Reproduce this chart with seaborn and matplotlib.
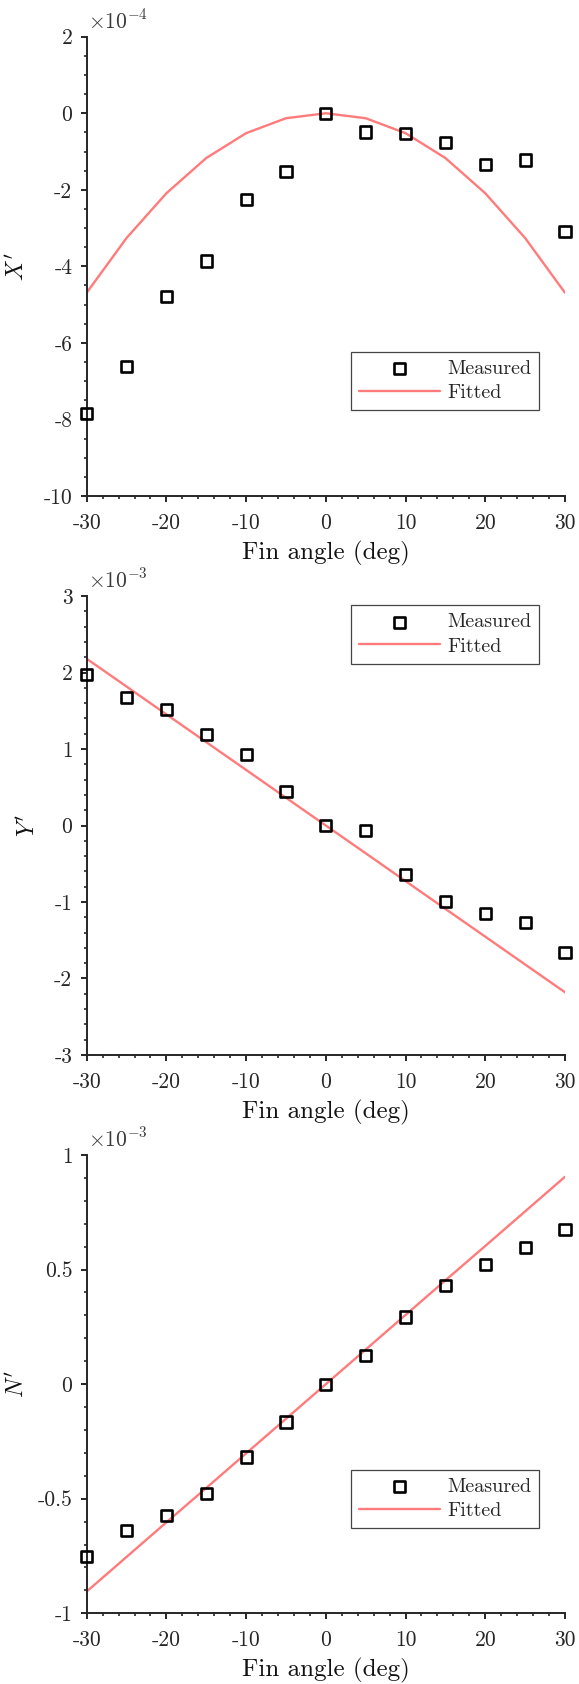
import matplotlib
matplotlib.use("Agg")
import matplotlib.pyplot as plt
from matplotlib.ticker import MultipleLocator, FuncFormatter
import seaborn as sns

# Fin deflection angles (deg)
fin_angle = [-30, -25, -20, -15, -10, -5, 0, 5, 10, 15, 20, 25, 30]

# Surge force coefficient X' (x 1e-4)
x_measured = [-7.85, -6.61, -4.78, -3.86, -2.26, -1.53, 0.0, -0.49, -0.54, -0.77, -1.33, -1.22, -3.10]
x_fitted = [-4.69, -3.26, -2.09, -1.17, -0.52, -0.13, 0.0, -0.13, -0.52, -1.17, -2.09, -3.26, -4.69]

# Sway force coefficient Y' (x 1e-3)
y_measured = [1.98, 1.67, 1.52, 1.19, 0.93, 0.44, 0.0, -0.07, -0.64, -0.99, -1.15, -1.27, -1.66]
y_fitted = [2.18, 1.817, 1.453, 1.09, 0.727, 0.363, 0.0, -0.363, -0.727, -1.09, -1.453, -1.817, -2.18]

# Yaw moment coefficient N' (x 1e-3)
n_measured = [-0.753, -0.639, -0.572, -0.476, -0.318, -0.165, 0.0, 0.126, 0.293, 0.432, 0.522, 0.596, 0.675]
n_fitted = [-0.905, -0.754, -0.603, -0.453, -0.302, -0.151, 0.0, 0.151, 0.302, 0.453, 0.603, 0.754, 0.905]

INK = "#262626"
FIT_COLOR = "#ff7b7b"

sns.set_style("ticks")
plt.rcParams.update({
    "font.family": ["cmr10", "DejaVu Serif"],
    "mathtext.fontset": "cm",
    "axes.unicode_minus": False,
    "axes.linewidth": 1.4,
    "axes.edgecolor": INK,
    "axes.labelcolor": "#111111",
    "xtick.color": INK,
    "ytick.color": INK,
    "xtick.labelcolor": INK,
    "ytick.labelcolor": INK,
    "xtick.direction": "out",
    "ytick.direction": "out",
    "xtick.major.size": 4.3,
    "ytick.major.size": 4.3,
    "xtick.minor.size": 2.5,
    "ytick.minor.size": 2.5,
    "xtick.major.width": 1.4,
    "ytick.major.width": 1.4,
    "xtick.minor.width": 1.2,
    "ytick.minor.width": 1.2,
    "xtick.major.pad": 8,
    "ytick.major.pad": 6,
    "xtick.labelsize": 15.5,
    "ytick.labelsize": 15.5,
})


def tick_text(v, _pos):
    if abs(v) < 1e-9:
        return "0"
    return f"{v:g}"


def draw_panel(ax, measured, fitted, ylabel, label_x, exponent, ylim, major, minor, legend_top):
    sns.lineplot(x=fin_angle, y=fitted, ax=ax, color=FIT_COLOR, linewidth=1.7,
                 label="Fitted", legend=False, zorder=2)
    sns.scatterplot(x=fin_angle, y=measured, ax=ax, marker="s", s=64,
                    facecolor="none", edgecolor="black", linewidth=1.9,
                    label="Measured", legend=False, zorder=3, clip_on=False)

    ax.set_xlim(-30, 30)
    ax.set_ylim(*ylim)
    ax.xaxis.set_major_locator(MultipleLocator(10))
    ax.xaxis.set_minor_locator(MultipleLocator(2))
    ax.yaxis.set_major_locator(MultipleLocator(major))
    ax.yaxis.set_minor_locator(MultipleLocator(minor))
    ax.xaxis.set_major_formatter(FuncFormatter(tick_text))
    ax.yaxis.set_major_formatter(FuncFormatter(tick_text))
    sns.despine(ax=ax)

    ax.set_xlabel("Fin angle (deg)", fontsize=18, labelpad=6)
    ax.set_ylabel(ylabel, fontsize=17)
    ax.yaxis.set_label_coords(label_x, 0.5)

    ax.annotate(rf"$\times10^{{{exponent}}}$", xy=(0, 1), xycoords="axes fraction",
                xytext=(1.2, 6), textcoords="offset points", ha="left", va="baseline",
                fontsize=15.5, color="#3a3a3a")

    handles, labels = ax.get_legend_handles_labels()
    order = [labels.index("Measured"), labels.index("Fitted")]
    leg = ax.legend([handles[i] for i in order], [labels[i] for i in order],
                    loc="upper right", bbox_to_anchor=(0.9457, legend_top),
                    bbox_transform=ax.transAxes, borderaxespad=0,
                    fontsize=14.5, frameon=True, fancybox=False, framealpha=1,
                    edgecolor="#444444", handlelength=4.0, handletextpad=0.35,
                    borderpad=0.4, labelspacing=0.3)
    leg.get_frame().set_linewidth(0.9)


fig = plt.figure(figsize=(5.79, 16.84), dpi=100)
left, width = 0.1497, 0.8261
ax1 = fig.add_axes([left, 0.70546, width, 0.27274])
ax2 = fig.add_axes([left, 0.37352, width, 0.27254])
ax3 = fig.add_axes([left, 0.04198, width, 0.27215])

draw_panel(ax1, x_measured, x_fitted, r"$X'$", -0.1221, -4, (-10, 2), 2, 0.5, 0.3135)
draw_panel(ax2, y_measured, y_fitted, r"$Y'$", -0.0991, -3, (-3, 3), 1, 0.2, 0.980)
draw_panel(ax3, n_measured, n_fitted, r"$N'$", -0.1217, -3, (-1, 1), 0.5, 0.1, 0.3127)

fig.savefig("out.png", dpi=100)
